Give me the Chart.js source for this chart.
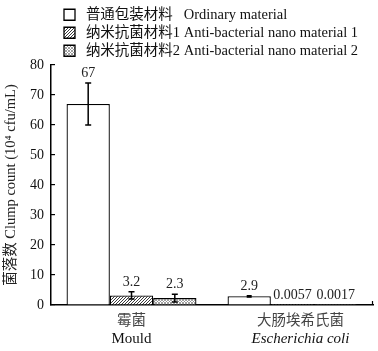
<!DOCTYPE html>
<html><head><meta charset="utf-8">
<script src="https://cdn.jsdelivr.net/npm/chart.js@4"></script>
<style>html,body{margin:0;padding:0;background:#fff}</style>
</head><body>
<canvas id="c" width="378" height="351" style="width:378px;height:351px;display:block"></canvas>
<script>
const categories = ['霉菌', '大肠埃希氏菌'];
const categoriesEn = ['Mould', 'Escherichia coli'];
const seriesNames = ['普通包装材料   Ordinary material', '纳米抗菌材料1 Anti-bacterial nano material 1', '纳米抗菌材料2 Anti-bacterial nano material 2'];
const ordinary = [67, 2.9];
const nano1 = [3.2, 0.0057];
const nano2 = [2.3, 0.0017];
const ordinaryErr = [7, 0.2];
const nano1Err = [1.2, 0];
const nano2Err = [1.3, 0];
const yTicks = [0, 10, 20, 30, 40, 50, 60, 70, 80];

const SERIF = "'Liberation Serif', 'Times New Roman', 'Noto Sans CJK SC', serif";

function hatch(kind) {
  const s = 3;
  const c = document.createElement('canvas');
  c.width = s; c.height = s;
  const g = c.getContext('2d');
  g.fillStyle = '#fff'; g.fillRect(0, 0, s, s);
  g.strokeStyle = kind === 1 ? '#3a3a3a' : '#8a8a8a';
  g.lineWidth = kind === 1 ? 1 : 0.8;
  g.beginPath();
  g.moveTo(-1, s + 1); g.lineTo(s + 1, -1);
  g.moveTo(-1, 1); g.lineTo(1, -1);
  g.moveTo(s - 1, s + 1); g.lineTo(s + 1, s - 1);
  if (kind === 2) {
    g.moveTo(-1, -1); g.lineTo(s + 1, s + 1);
    g.moveTo(s - 1, -1); g.lineTo(s + 1, 1);
    g.moveTo(-1, s - 1); g.lineTo(1, s + 1);
  }
  g.stroke();
  return g.createPattern(c, 'repeat');
}

const errs = [ordinaryErr, nano1Err, nano2Err];

const errorBars = {
  id: 'errorBars',
  afterDatasetsDraw(chart) {
    const ctx = chart.ctx, y = chart.scales.y;
    ctx.save();
    chart.data.datasets.forEach((ds, i) => {
      const meta = chart.getDatasetMeta(i);
      meta.data.forEach((el, j) => {
        const v = ds.data[j], e = errs[i][j];
        const top = y.getPixelForValue(v + e);
        if (e > 0) {
          const bot = y.getPixelForValue(v - e);
          ctx.strokeStyle = '#000';
          ctx.lineWidth = 1.5;
          ctx.beginPath();
          ctx.moveTo(el.x, top); ctx.lineTo(el.x, bot);
          const cw = e < 0.5 ? 2.5 : 3;
          ctx.moveTo(el.x - cw, top); ctx.lineTo(el.x + cw, top);
          ctx.moveTo(el.x - cw, bot); ctx.lineTo(el.x + cw, bot);
          ctx.stroke();
        }
        ctx.fillStyle = '#222';
        ctx.font = '14px ' + SERIF;
        ctx.textAlign = 'center';
        ctx.textBaseline = 'alphabetic';
        ctx.fillText(String(v), el.x, Math.min(top, y.getPixelForValue(v)) - 6);
      });
    });
    ctx.restore();
  }
};

const catLabels = {
  id: 'catLabels',
  afterDraw(chart) {
    const ctx = chart.ctx, x = chart.scales.x, a = chart.chartArea;
    ctx.save();
    ctx.strokeStyle = '#000'; ctx.lineWidth = 1.2;
    ctx.beginPath(); ctx.moveTo(a.right - 0.5, a.bottom); ctx.lineTo(a.right - 0.5, a.bottom - 4); ctx.stroke();
    ctx.textAlign = 'center';
    ctx.textBaseline = 'middle';
    categories.forEach((c, i) => {
      const px = x.getPixelForValue(i) + (i === 1 ? 8 : 0);
      ctx.fillStyle = '#444';
      ctx.font = '14.5px ' + SERIF;
      ctx.fillText(c, px, a.bottom + 16);
      ctx.fillStyle = '#111';
      ctx.font = (i === 1 ? 'italic ' : '') + '15px ' + SERIF;
      ctx.fillText(categoriesEn[i], px, a.bottom + 34);
    });
    ctx.restore();
  }
};

const legendAdjust = {
  id: 'legendAdjust',
  beforeLayout(chart) {
    const l = chart.legend;
    if (l && !l._patched) {
      const f = l.fit;
      l.fit = function () { f.call(this); this.height -= 3; };
      l._patched = true;
    }
  },
  afterLayout(chart) {
    const l = chart.legend;
    if (l) { l.left = 64 - 3.5; }
  }
};

new Chart(document.getElementById('c'), {
  type: 'bar',
  data: {
    labels: categories,
    datasets: [
      { label: seriesNames[0], data: ordinary, backgroundColor: '#fff', borderColor: '#000', borderWidth: 1.3 },
      { label: seriesNames[1], data: nano1, backgroundColor: hatch(1), borderColor: '#000', borderWidth: 1.3 },
      { label: seriesNames[2], data: nano2, backgroundColor: hatch(2), borderColor: '#000', borderWidth: 1.3 }
    ]
  },
  options: {
    responsive: false,
    animation: false,
    devicePixelRatio: 1,
    layout: { padding: { top: 4, right: 5, left: 0, bottom: 0 } },
    datasets: { bar: { categoryPercentage: 0.807, barPercentage: 1 } },
    plugins: {
      legend: {
        position: 'top', align: 'start', fullSize: true,
        labels: {
          boxWidth: 11, boxHeight: 11, padding: 3.5, color: '#111', font: { size: 14.5, family: SERIF },
          generateLabels(chart) {
            const items = Chart.defaults.plugins.legend.labels.generateLabels(chart);
            items.forEach(it => { it.text = ' ' + it.text; });
            return items;
          }
        }
      },
      tooltip: { enabled: false }
    },
    scales: {
      x: {
        type: 'category', offset: true,
        grid: { display: false },
        border: { display: true, color: '#000', width: 1.5 },
        ticks: { display: false },
        afterFit(s) { s.height = 46; }
      },
      y: {
        min: 0, max: 80,
        afterBuildTicks(s) { s.ticks = yTicks.map(v => ({ value: v })); },
        grid: { display: true, drawOnChartArea: false, drawTicks: true, tickLength: -4, color: '#000', lineWidth: 1.2 },
        border: { display: true, color: '#000', width: 1.5 },
        ticks: { padding: 11, color: '#111', font: { size: 14, family: SERIF } },
        title: { display: true, text: '菌落数 Clump count (10⁴ cfu/mL)', color: '#222', padding: { top: 2, bottom: 0 }, font: { size: 14.5, family: SERIF } },
        afterFit(s) { s.width = 51; }
      }
    }
  },
  plugins: [errorBars, catLabels, legendAdjust]
});
</script>
</body></html>
